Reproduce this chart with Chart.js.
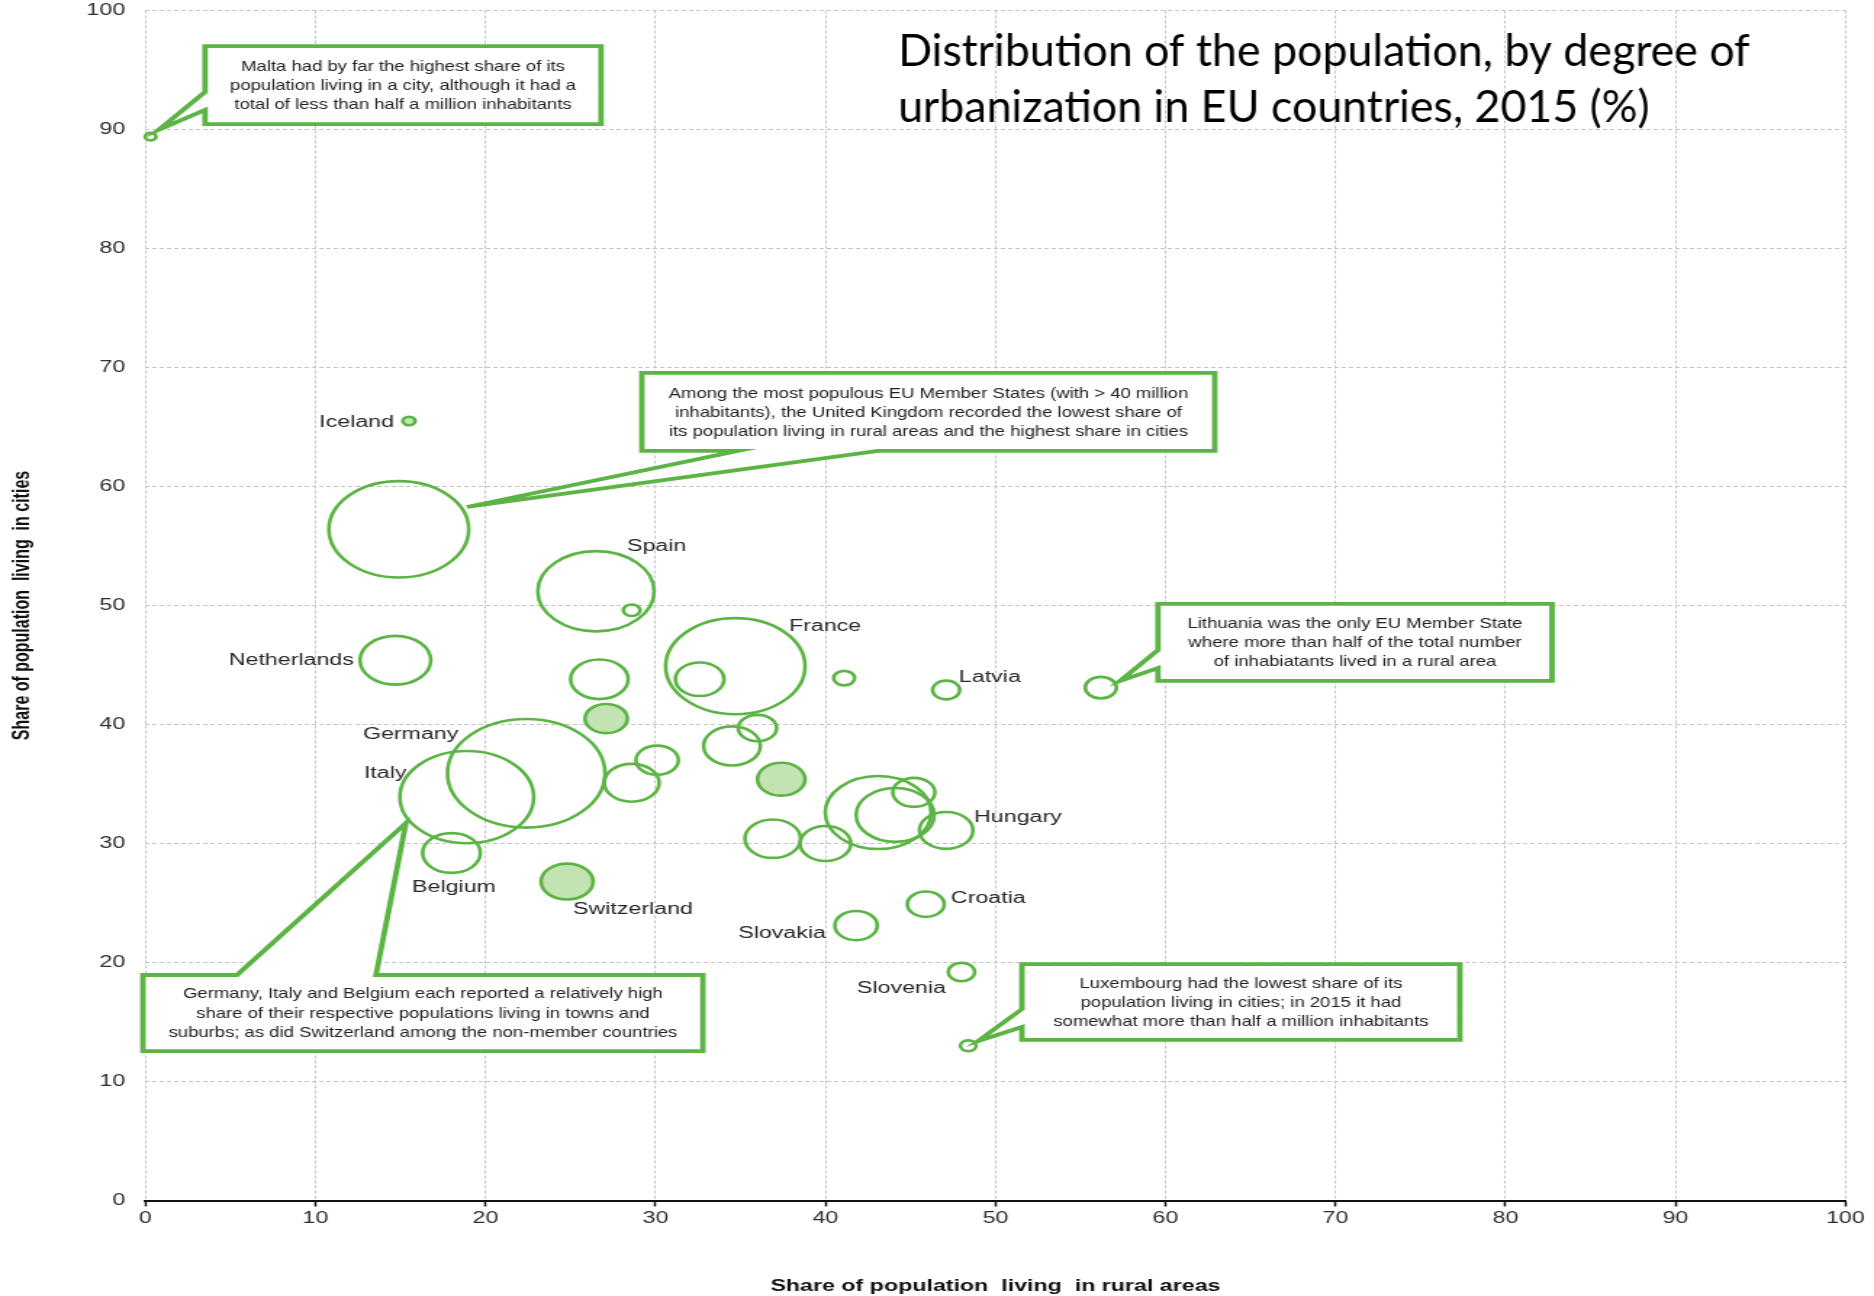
<!DOCTYPE html>
<html>
<head>
<meta charset="utf-8">
<script src="https://cdn.jsdelivr.net/npm/chart.js@4.4.1/dist/chart.umd.min.js"></script>
<style>
  html, body { margin: 0; padding: 0; background: #ffffff; }
  #wrap { width: 1874px; height: 1296px; overflow: hidden; }
  #c { display: block; width: 1874px; height: 1296px; }
</style>
</head>
<body>
<div id="wrap"><canvas id="c" width="1292" height="1296" style="width:1874px;height:1296px"></canvas></div>
<script>
// ---------------- data ----------------
const countries = ['Malta','Iceland','United Kingdom','Spain','Cyprus','Netherlands','Greece','Norway','France','Bulgaria','Estonia','Latvia','Lithuania','Germany','Italy','Denmark','Sweden','Portugal','Finland','Serbia','Belgium','Switzerland','Czech Republic','Austria','Poland','Romania','Ireland','Hungary','Croatia','Slovakia','Slovenia','Luxembourg'];
// share of population living in rural areas (%)
const ruralShare = [0.3, 15.5, 14.9, 26.5, 28.6, 14.7, 26.7, 27.1, 34.7, 32.6, 41.1, 47.1, 56.2, 22.4, 18.9, 30.1, 28.6, 34.5, 36.0, 37.4, 18.0, 24.8, 36.9, 40.0, 43.1, 44.1, 45.2, 47.1, 45.9, 41.8, 48.0, 48.4];
// share of population living in cities (%)
const cityShare = [89.4, 65.5, 56.4, 51.2, 49.6, 45.4, 43.8, 40.5, 44.9, 43.8, 43.9, 42.9, 43.1, 35.9, 33.9, 37.0, 35.1, 38.2, 39.7, 35.4, 29.2, 26.8, 30.4, 30.0, 32.6, 32.4, 34.3, 31.1, 24.9, 23.1, 19.2, 13.0];
// population (millions)
const population = [0.41, 0.52, 66.3, 45.9, 0.94, 17.0, 11.2, 6.1, 65.9, 8.0, 1.5, 2.5, 3.3, 84.1, 60.7, 6.1, 10.2, 10.9, 5.0, 7.7, 11.3, 9.2, 10.5, 8.7, 38.0, 20.7, 6.0, 9.7, 4.6, 6.1, 2.4, 0.83];
const nonMembers = ['Iceland','Norway','Serbia','Switzerland'];
const xTicks = [0,10,20,30,40,50,60,70,80,90,100];
const yTicks = [0,10,20,30,40,50,60,70,80,90,100];

const titleLines = ['Distribution of the population, by degree of', 'urbanization in EU countries, 2015 (%)'];
const xTitle = 'Share of population  living  in rural areas';
const yTitle = 'Share of population  living  in cities';

const labelTexts = ['Iceland','Spain','Netherlands','Germany','Italy','France','Latvia','Hungary','Belgium','Switzerland','Croatia','Slovakia','Slovenia'];

const calloutTexts = [
  ['Malta had by far the highest share of its', 'population living in a city, although it had a', 'total of less than half a million inhabitants'],
  ['Among the most populous EU Member States (with > 40 million', 'inhabitants), the United Kingdom recorded the lowest share of', 'its population living in rural areas and the highest share in cities'],
  ['Lithuania was the only EU Member State', 'where more than half of the total number', 'of inhabiatants lived in a rural area'],
  ['Germany, Italy and Belgium each reported a relatively high', 'share of their respective populations living in towns and', 'suburbs; as did Switzerland among the non-member countries'],
  ['Luxembourg had the lowest share of its', 'population living in cities; in 2015 it had', 'somewhat more than half a million inhabitants']
];

// ---------------- layout / style (positions in axis units) ----------------
const STRETCH = 1874 / 1292;
const SIZE_K = 5.92;
const GREEN = '#5cb445';
const LIGHT = '#c3e3b3';

const labelLayout = [
  {x: 14.62, y: 65.0, align: 'right'},
  {x: 28.32, y: 54.58, align: 'left'},
  {x: 12.26, y: 44.99, align: 'right'},
  {x: 12.79, y: 38.78, align: 'left'},
  {x: 12.85, y: 35.5, align: 'left'},
  {x: 37.85, y: 47.86, align: 'left'},
  {x: 47.85, y: 43.57, align: 'left'},
  {x: 48.74, y: 31.81, align: 'left'},
  {x: 15.68, y: 25.92, align: 'left'},
  {x: 25.15, y: 24.08, align: 'left'},
  {x: 47.38, y: 25.0, align: 'left'},
  {x: 40.03, y: 22.06, align: 'right'},
  {x: 41.85, y: 17.44, align: 'left'}
];

const calloutLayout = [
  {l: 3.5, r: 26.8, t: 97.0, b: 90.45, side: 'left', w1: 93.15, w2: 91.64, tip: [0.76, 89.96], cx: 15.15, lines: [94.91, 93.32, 91.72]},
  {l: 29.2, r: 62.9, t: 69.54, b: 63.0, side: 'bottom', w1: 34.85, w2: 43.09, tip: [18.91, 58.28], cx: 46.06, lines: [67.44, 65.84, 64.24]},
  {l: 59.56, r: 82.74, t: 50.13, b: 43.66, side: 'left', w1: 46.26, w2: 44.75, tip: [57.32, 43.66], cx: 71.15, lines: [48.11, 46.51, 44.92]},
  {l: -0.15, r: 32.79, t: 18.95, b: 12.56, side: 'top', w1: 5.38, w2: 13.56, tip: [15.32, 31.72], cx: 16.32, lines: [17.02, 15.34, 13.74]},
  {l: 51.56, r: 77.32, t: 19.87, b: 13.49, side: 'left', w1: 16.09, w2: 14.58, tip: [48.97, 13.4], cx: 64.44, lines: [17.86, 16.26, 14.66]}
];
const titleLayout = {x: 44.27, y1: 95.33, y2: 90.62, width: 852};

const annotationPlugin = {
  id: 'annotations',
  afterDatasetsDraw(chart) {
    const ctx = chart.ctx;
    const sx = chart.scales.x, sy = chart.scales.y;
    const X = v => sx.getPixelForValue(v);
    const Y = v => sy.getPixelForValue(v);

    // callouts
    calloutLayout.forEach((c, i) => {
      const L = X(c.l), R = X(c.r), T = Y(c.t), B = Y(c.b);
      const tx = X(c.tip[0]), ty = Y(c.tip[1]);
      ctx.save();
      ctx.beginPath();
      if (c.side === 'left') {
        ctx.moveTo(L, T); ctx.lineTo(R, T); ctx.lineTo(R, B); ctx.lineTo(L, B);
        ctx.lineTo(L, Y(c.w2)); ctx.lineTo(tx, ty); ctx.lineTo(L, Y(c.w1));
      } else if (c.side === 'bottom') {
        ctx.moveTo(L, T); ctx.lineTo(R, T); ctx.lineTo(R, B);
        ctx.lineTo(X(c.w2), B); ctx.lineTo(tx, ty); ctx.lineTo(X(c.w1), B); ctx.lineTo(L, B);
      } else {
        ctx.moveTo(L, T); ctx.lineTo(X(c.w1), T); ctx.lineTo(tx, ty); ctx.lineTo(X(c.w2), T);
        ctx.lineTo(R, T); ctx.lineTo(R, B); ctx.lineTo(L, B);
      }
      ctx.closePath();
      ctx.fillStyle = '#ffffff';
      ctx.fill();
      ctx.lineWidth = 3.8;
      ctx.lineJoin = 'miter';
      ctx.miterLimit = 20;
      ctx.strokeStyle = GREEN;
      ctx.stroke();
      ctx.restore();

      ctx.save();
      ctx.fillStyle = '#222222';
      ctx.font = '15px "Liberation Sans", Arial, sans-serif';
      ctx.textAlign = 'center';
      ctx.textBaseline = 'alphabetic';
      calloutTexts[i].forEach((line, j) => {
        ctx.save();
        ctx.translate(X(c.cx), Y(c.lines[j]));
        ctx.scale(0.85, 1);
        ctx.fillText(line, 0, 0);
        ctx.restore();
      });
      ctx.restore();
    });

    // country labels
    ctx.save();
    ctx.fillStyle = '#262626';
    ctx.font = '16px "Liberation Sans", Arial, sans-serif';
    ctx.textBaseline = 'alphabetic';
    labelTexts.forEach((t, i) => {
      const p = labelLayout[i];
      ctx.textAlign = p.align;
      ctx.fillText(t, X(p.x), Y(p.y));
    });
    ctx.restore();

    // title (drawn without the horizontal stretch)
    ctx.save();
    ctx.fillStyle = '#000000';
    ctx.textAlign = 'left';
    ctx.textBaseline = 'alphabetic';
    ctx.font = '40px Lato, "Open Sans", sans-serif';
    const w0 = ctx.measureText(titleLines[0]).width;
    const fs = 40 * titleLayout.width / w0;
    ctx.font = fs.toFixed(2) + 'px Lato, "Open Sans", sans-serif';
    [titleLayout.y1, titleLayout.y2].forEach((yy, j) => {
      ctx.save();
      ctx.translate(X(titleLayout.x), Y(yy));
      ctx.scale(1 / STRETCH, 1);
      ctx.fillText(titleLines[j], 0, 0);
      ctx.restore();
    });
    ctx.restore();
  }
};

function makeChart() {
  const data = countries.map((c, i) => ({x: ruralShare[i], y: cityShare[i], r: SIZE_K * Math.sqrt(population[i])}));
  new Chart(document.getElementById('c'), {
    type: 'bubble',
    data: {
      datasets: [{
        label: 'Countries',
        data: data,
        borderColor: GREEN,
        borderWidth: 2.6,
        backgroundColor: (ctx) => nonMembers.includes(countries[ctx.dataIndex]) ? LIGHT : 'rgba(255,255,255,0)',
        hoverRadius: 0,
        clip: false
      }]
    },
    options: {
      responsive: false,
      devicePixelRatio: 1,
      animation: false,
      events: [],
      layout: { autoPadding: false, padding: { top: 10.5, right: 19.7, left: 0, bottom: 0 } },
      plugins: { legend: { display: false }, tooltip: { enabled: false } },
      scales: {
        x: {
          type: 'linear', min: 0, max: 100,
          afterBuildTicks: (s) => { s.ticks = xTicks.map(v => ({value: v})); },
          afterFit: (s) => { s.height = 95.5; },
          ticks: { color: '#2e2e2e', font: { family: '"Liberation Sans", Arial, sans-serif', size: 16 }, padding: 2, maxRotation: 0, autoSkip: false },
          grid: { color: '#c4c4c4', lineWidth: 1, tickLength: 6, tickColor: '#111111', tickWidth: 1.5 },
          border: { display: true, color: '#111111', width: 2, dash: [3, 2] },
          title: { display: true, text: xTitle, color: '#111111', font: { family: '"Liberation Sans", Arial, sans-serif', size: 16, weight: 'bold' }, padding: { top: 0, bottom: 0 } }
        },
        y: {
          type: 'linear', min: 0, max: 100,
          afterBuildTicks: (s) => { s.ticks = yTicks.map(v => ({value: v})); },
          afterFit: (s) => { s.width = 100.3; },
          ticks: { color: '#2e2e2e', font: { family: '"Liberation Sans", Arial, sans-serif', size: 16 }, padding: 0.5, autoSkip: false },
          grid: { color: '#c4c4c4', lineWidth: 1, drawTicks: true, tickLength: 13.5, tickColor: 'rgba(0,0,0,0)' },
          border: { display: false, dash: [3, 2] },
          title: { display: true, text: yTitle, color: '#111111', font: { family: '"Liberation Sans", Arial, sans-serif', size: 16, weight: 'bold' }, padding: { top: 5.6, bottom: 0 } }
        }
      }
    },
    plugins: [annotationPlugin]
  });
}

const fontLoads = [
  '40px Lato', '15px "Liberation Sans"', 'bold 16px "Liberation Sans"'
].map(f => document.fonts.load(f));
Promise.all(fontLoads).then(makeChart, makeChart);
</script>
</body>
</html>
